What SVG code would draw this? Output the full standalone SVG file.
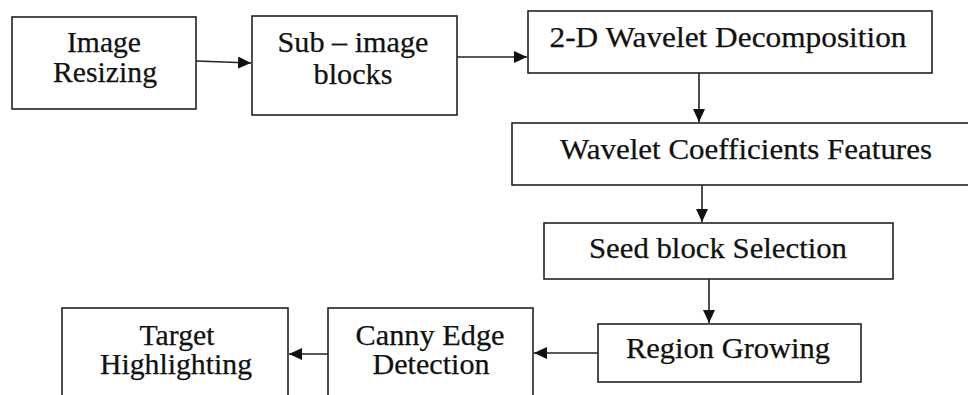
<svg xmlns="http://www.w3.org/2000/svg" width="968" height="395" viewBox="0 0 968 395">
  <style>
    .box { fill: #ffffff; stroke: #222222; stroke-width: 1.6; }
    .lbl { font-family: "Liberation Serif", "Times New Roman", serif; font-size: 29px; fill: #111111; stroke: #111111; stroke-width: 0.25; text-anchor: middle; }
    .link { fill: none; stroke: #222222; stroke-width: 1.6; marker-end: url(#arrow); }
  </style>
  <defs>
    <marker id="arrow" markerUnits="userSpaceOnUse" markerWidth="13" markerHeight="12" viewBox="0 0 13 12" refX="13" refY="6" orient="auto">
      <path d="M0,0 L13,6 L0,12 z" fill="#111111"/>
    </marker>
  </defs>
  <rect width="968" height="395" fill="#ffffff"/>

  <g id="connectors">
    <path class="link" d="M196,61 L251,63"/>
    <path class="link" d="M457,57 L527,57"/>
    <path class="link" d="M699,73 L699,122"/>
    <path class="link" d="M702,185 L702,222"/>
    <path class="link" d="M709,279 L709,323"/>
    <path class="link" d="M598,353 L534,353"/>
    <path class="link" d="M328,354 L289,354"/>
  </g>

  <g id="image-resizing">
    <rect class="box" x="12" y="17" width="184" height="92"/>
    <text class="lbl" x="104" y="52" textLength="74" lengthAdjust="spacingAndGlyphs">Image</text>
    <text class="lbl" x="105" y="82" textLength="104" lengthAdjust="spacingAndGlyphs">Resizing</text>
  </g>

  <g id="sub-image-blocks">
    <rect class="box" x="252" y="16" width="205" height="99"/>
    <text class="lbl" x="353" y="52" textLength="151" lengthAdjust="spacingAndGlyphs">Sub – image</text>
    <text class="lbl" x="353" y="84" textLength="79" lengthAdjust="spacingAndGlyphs">blocks</text>
  </g>

  <g id="wavelet-decomposition">
    <rect class="box" x="528" y="11" width="404" height="62"/>
    <text class="lbl" x="728" y="47" textLength="357" lengthAdjust="spacingAndGlyphs">2-D Wavelet Decomposition</text>
  </g>

  <g id="coefficient-features">
    <rect class="box" x="512" y="123" width="470" height="62"/>
    <text class="lbl" x="746" y="159" textLength="372" lengthAdjust="spacingAndGlyphs">Wavelet Coefficients Features</text>
  </g>

  <g id="seed-selection">
    <rect class="box" x="544" y="223" width="349" height="56"/>
    <text class="lbl" x="718" y="258" textLength="258" lengthAdjust="spacingAndGlyphs">Seed block Selection</text>
  </g>

  <g id="region-growing">
    <rect class="box" x="598" y="324" width="263" height="58"/>
    <text class="lbl" x="728" y="358" textLength="204" lengthAdjust="spacingAndGlyphs">Region Growing</text>
  </g>

  <g id="canny-edge">
    <rect class="box" x="328" y="308" width="205" height="100"/>
    <text class="lbl" x="430" y="345" textLength="149" lengthAdjust="spacingAndGlyphs">Canny Edge</text>
    <text class="lbl" x="431" y="374" textLength="117" lengthAdjust="spacingAndGlyphs">Detection</text>
  </g>

  <g id="target-highlighting">
    <rect class="box" x="62" y="308" width="226" height="100"/>
    <text class="lbl" x="177" y="345" textLength="75" lengthAdjust="spacingAndGlyphs">Target</text>
    <text class="lbl" x="176" y="374" textLength="152" lengthAdjust="spacingAndGlyphs">Highlighting</text>
  </g>
</svg>
